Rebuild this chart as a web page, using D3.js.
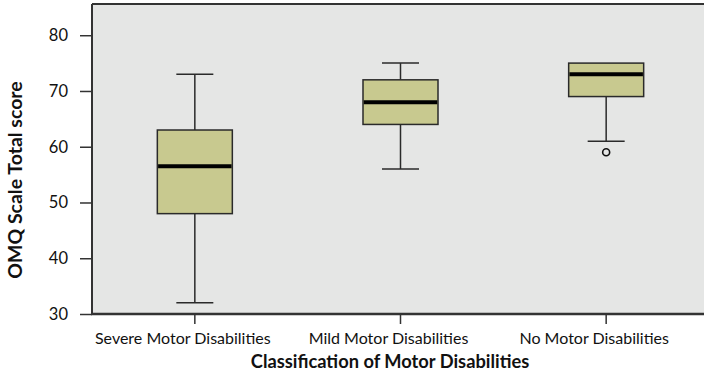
<!DOCTYPE html>
<html>
<head>
<meta charset="utf-8">
<script src="https://cdn.jsdelivr.net/npm/d3@7"></script>
<style>
  html, body { margin: 0; padding: 0; background: #ffffff; }
  svg { display: block; }
  text { font-family: Lato, "Open Sans", sans-serif; fill: #111; }
</style>
</head>
<body>
<svg id="chart" width="704" height="375"></svg>
<script>
// Box-plot summary per group
const categories = ["Severe Motor Disabilities", "Mild Motor Disabilities", "No Motor Disabilities"];
const lowerWhisker = [32, 56, 61];
const q1 = [48, 64, 69];
const median = [56.5, 68, 73];
const q3 = [63, 72, 75];
const upperWhisker = [73, 75, 75];
const outliers = [[], [], [59]];
const yTicks = [30, 40, 50, 60, 70, 80];

const svg = d3.select("#chart");
const plot = { left: 92, right: 709, top: 4, bottom: 314 };

const x = d3.scaleBand().domain(categories).range([plot.left, plot.right]).padding(0);
const y = d3.scaleLinear().domain([30, 85.6]).range([plot.bottom, plot.top]);

const boxWidth = 75, capWidth = 37;
const stroke = "#2a2a2a";

// plot background and frame
svg.append("rect")
  .attr("x", plot.left).attr("y", plot.top)
  .attr("width", 720 - plot.left).attr("height", plot.bottom - plot.top)
  .attr("fill", "#e5e6e5");
svg.append("line")
  .attr("x1", plot.left).attr("x2", 720)
  .attr("y1", plot.top).attr("y2", plot.top)
  .attr("stroke", "#333").attr("stroke-width", 2);

const data = categories.map((c, i) => ({
  c, lo: lowerWhisker[i], q1: q1[i], med: median[i], q3: q3[i], hi: upperWhisker[i], out: outliers[i]
}));

const g = svg.append("g").selectAll("g").data(data).join("g")
  .attr("transform", d => `translate(${x(d.c) + x.bandwidth() / 2},0)`);

// whiskers
g.append("line").attr("x1", 0).attr("x2", 0)
  .attr("y1", d => y(d.q3)).attr("y2", d => y(d.hi))
  .attr("stroke", stroke).attr("stroke-width", 1.5);
g.append("line").attr("x1", 0).attr("x2", 0)
  .attr("y1", d => y(d.q1)).attr("y2", d => y(d.lo))
  .attr("stroke", stroke).attr("stroke-width", 1.5);
g.filter(d => d.hi > d.q3).append("line")
  .attr("x1", -capWidth / 2).attr("x2", capWidth / 2)
  .attr("y1", d => y(d.hi)).attr("y2", d => y(d.hi))
  .attr("stroke", stroke).attr("stroke-width", 1.5);
g.append("line")
  .attr("x1", -capWidth / 2).attr("x2", capWidth / 2)
  .attr("y1", d => y(d.lo)).attr("y2", d => y(d.lo))
  .attr("stroke", stroke).attr("stroke-width", 1.5);

// boxes
g.append("rect")
  .attr("x", -boxWidth / 2).attr("width", boxWidth)
  .attr("y", d => y(d.q3)).attr("height", d => y(d.q1) - y(d.q3))
  .attr("fill", "#c8c98f").attr("stroke", stroke).attr("stroke-width", 1.5);

// medians
g.append("line")
  .attr("x1", -boxWidth / 2 + 0.75).attr("x2", boxWidth / 2 - 0.75)
  .attr("y1", d => y(d.med)).attr("y2", d => y(d.med))
  .attr("stroke", "#000").attr("stroke-width", 4);

// outliers
g.selectAll("circle").data(d => d.out).join("circle")
  .attr("cx", 0).attr("cy", v => y(v)).attr("r", 3.5)
  .attr("fill", "none").attr("stroke", "#111").attr("stroke-width", 1.6);

// y axis
const yAxis = svg.append("g")
  .attr("transform", `translate(${plot.left},0)`)
  .call(d3.axisLeft(y).tickValues(yTicks).tickSize(12).tickPadding(12));
yAxis.select(".domain").attr("stroke", "#333").attr("stroke-width", 2)
  .attr("d", `M0,${plot.top}V${plot.bottom}`);
yAxis.selectAll(".tick line").attr("stroke", "#333").attr("stroke-width", 1.5);
yAxis.selectAll(".tick text").attr("font-size", 16.5).attr("fill", "#111")
  .style("font-family", "Lato, 'Open Sans', sans-serif");

// x axis
const xAxis = svg.append("g")
  .attr("transform", `translate(0,${plot.bottom})`)
  .call(d3.axisBottom(x).tickSize(10).tickPadding(6));
xAxis.select(".domain").attr("stroke", "#333").attr("stroke-width", 2.5)
  .attr("d", `M${plot.left - 1},0H720`);
xAxis.selectAll(".tick line").attr("stroke", "#333").attr("stroke-width", 1.5);
xAxis.selectAll(".tick text").attr("font-size", 16).attr("fill", "#111")
  .attr("dx", -12).attr("dy", "0.9em")
  .style("font-family", "Lato, 'Open Sans', sans-serif");

// axis titles
svg.append("text")
  .attr("x", 390).attr("y", 368)
  .attr("text-anchor", "middle")
  .attr("font-size", 18.3).attr("font-weight", "bold")
  .text("Classification of Motor Disabilities");
svg.append("text")
  .attr("transform", "translate(22,180) rotate(-90)")
  .attr("text-anchor", "middle")
  .attr("font-size", 19.5).attr("font-weight", "bold")
  .text("OMQ Scale Total score");
</script>
</body>
</html>
